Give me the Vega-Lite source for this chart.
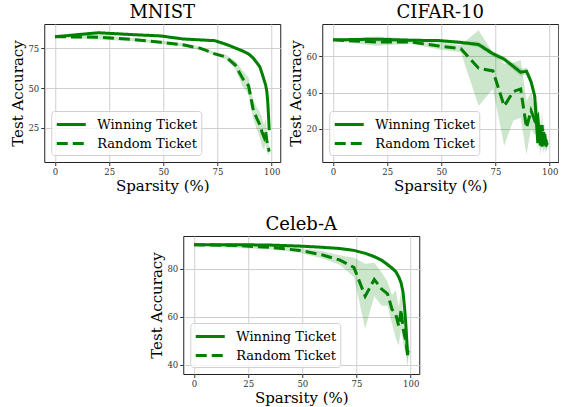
{
"$schema": "https://vega.github.io/schema/vega-lite/v6.json",
"padding": {"left": 10, "top": 3, "right": 0, "bottom": 0},
"config": {
  "font": "DejaVu Serif",
  "view": {"stroke": "#222", "strokeWidth": 1},
  "axis": {"grid": true, "gridColor": "#cfcfcf", "gridWidth": 1, "domain": false, "tickColor": "#333", "tickSize": 3.5, "labelFont": "DejaVu Serif", "labelFontSize": 8.5, "labelColor": "#333", "labelPadding": 2, "titleFont": "DejaVu Serif", "titleFontSize": 15, "titleFontWeight": "normal", "titleColor": "#000", "titlePadding": 2},
  "title": {"font": "DejaVu Serif", "fontSize": 18, "fontWeight": "normal", "offset": 2, "color": "#000"},
  "legend": {"labelFont": "DejaVu Serif", "labelFontSize": 13, "labelColor": "#000", "symbolStrokeColor": "#008000", "symbolStrokeWidth": 3, "symbolSize": 256, "symbolType": "M-1,0H2.625", "symbolFillColor": "transparent", "fillColor": "rgba(255,255,255,0.8)", "strokeColor": "#d0d0d0", "cornerRadius": 3, "padding": 4, "rowPadding": 2, "labelOffset": 23}
},
"datasets": {"d": [
{"ds":"MNIST","series":"Winning Ticket","s":0,"acc":82.3,"lo":81.8,"hi":82.8},
{"ds":"MNIST","series":"Winning Ticket","s":20,"acc":84.8,"lo":84.0,"hi":85.6},
{"ds":"MNIST","series":"Winning Ticket","s":36,"acc":83.6,"lo":82.8,"hi":84.4},
{"ds":"MNIST","series":"Winning Ticket","s":48.8,"acc":82.8,"lo":82.0,"hi":83.6},
{"ds":"MNIST","series":"Winning Ticket","s":59,"acc":80.9,"lo":80.1,"hi":81.7},
{"ds":"MNIST","series":"Winning Ticket","s":67.2,"acc":80.3,"lo":79.5,"hi":81.1},
{"ds":"MNIST","series":"Winning Ticket","s":73.8,"acc":79.8,"lo":79.0,"hi":80.6},
{"ds":"MNIST","series":"Winning Ticket","s":79,"acc":77.5,"lo":76.5,"hi":78.5},
{"ds":"MNIST","series":"Winning Ticket","s":83.2,"acc":75.2,"lo":74.2,"hi":76.2},
{"ds":"MNIST","series":"Winning Ticket","s":86.6,"acc":73.3,"lo":72.3,"hi":74.3},
{"ds":"MNIST","series":"Winning Ticket","s":89.3,"acc":71.5,"lo":70.3,"hi":72.7},
{"ds":"MNIST","series":"Winning Ticket","s":91.4,"acc":69,"lo":67.5,"hi":70.5},
{"ds":"MNIST","series":"Winning Ticket","s":93.1,"acc":66,"lo":64.5,"hi":67.5},
{"ds":"MNIST","series":"Winning Ticket","s":94.5,"acc":63.5,"lo":62,"hi":65},
{"ds":"MNIST","series":"Winning Ticket","s":95.6,"acc":59,"lo":57.5,"hi":60.5},
{"ds":"MNIST","series":"Winning Ticket","s":96.5,"acc":55,"lo":53.5,"hi":56.5},
{"ds":"MNIST","series":"Winning Ticket","s":97.2,"acc":52,"lo":50.5,"hi":53.5},
{"ds":"MNIST","series":"Winning Ticket","s":97.75,"acc":48,"lo":46.5,"hi":49.5},
{"ds":"MNIST","series":"Winning Ticket","s":98.2,"acc":41,"lo":39.5,"hi":42.5},
{"ds":"MNIST","series":"Winning Ticket","s":98.56,"acc":32,"lo":30.5,"hi":33.5},
{"ds":"MNIST","series":"Winning Ticket","s":98.85,"acc":23.5,"lo":22,"hi":25},
{"ds":"MNIST","series":"Random Ticket","s":0,"acc":82.3,"lo":81.8,"hi":82.8},
{"ds":"MNIST","series":"Random Ticket","s":20,"acc":82.0,"lo":80.5,"hi":83.5},
{"ds":"MNIST","series":"Random Ticket","s":36,"acc":80.5,"lo":79.5,"hi":81.5},
{"ds":"MNIST","series":"Random Ticket","s":48.8,"acc":78.8,"lo":77.8,"hi":79.8},
{"ds":"MNIST","series":"Random Ticket","s":59,"acc":77.2,"lo":76.2,"hi":78.2},
{"ds":"MNIST","series":"Random Ticket","s":67.2,"acc":75.0,"lo":74.0,"hi":76.0},
{"ds":"MNIST","series":"Random Ticket","s":73.8,"acc":71.5,"lo":70.5,"hi":72.5},
{"ds":"MNIST","series":"Random Ticket","s":79,"acc":69.5,"lo":68.0,"hi":71.0},
{"ds":"MNIST","series":"Random Ticket","s":83.2,"acc":64.5,"lo":62.0,"hi":67.0},
{"ds":"MNIST","series":"Random Ticket","s":86.6,"acc":56,"lo":51,"hi":61},
{"ds":"MNIST","series":"Random Ticket","s":89.3,"acc":51.5,"lo":46,"hi":57},
{"ds":"MNIST","series":"Random Ticket","s":91.4,"acc":37,"lo":31,"hi":43},
{"ds":"MNIST","series":"Random Ticket","s":93.1,"acc":31,"lo":24,"hi":38},
{"ds":"MNIST","series":"Random Ticket","s":94.5,"acc":27,"lo":19,"hi":35},
{"ds":"MNIST","series":"Random Ticket","s":95.6,"acc":22,"lo":13,"hi":31},
{"ds":"MNIST","series":"Random Ticket","s":96.5,"acc":19,"lo":11,"hi":27},
{"ds":"MNIST","series":"Random Ticket","s":97.2,"acc":23,"lo":15,"hi":31},
{"ds":"MNIST","series":"Random Ticket","s":97.75,"acc":17,"lo":10,"hi":24},
{"ds":"MNIST","series":"Random Ticket","s":98.2,"acc":14,"lo":9,"hi":19},
{"ds":"MNIST","series":"Random Ticket","s":98.56,"acc":12,"lo":8,"hi":16},
{"ds":"MNIST","series":"Random Ticket","s":98.85,"acc":10,"lo":7.5,"hi":12.5},
{"ds":"CIFAR-10","series":"Winning Ticket","s":0,"acc":69.2,"lo":68.7,"hi":69.7},
{"ds":"CIFAR-10","series":"Winning Ticket","s":20,"acc":69.6,"lo":68.1,"hi":71.1},
{"ds":"CIFAR-10","series":"Winning Ticket","s":36,"acc":69.0,"lo":68.0,"hi":70.0},
{"ds":"CIFAR-10","series":"Winning Ticket","s":48.8,"acc":68.8,"lo":68.0,"hi":69.6},
{"ds":"CIFAR-10","series":"Winning Ticket","s":59,"acc":67.8,"lo":66.8,"hi":68.8},
{"ds":"CIFAR-10","series":"Winning Ticket","s":67.2,"acc":66.6,"lo":65.1,"hi":68.1},
{"ds":"CIFAR-10","series":"Winning Ticket","s":73.8,"acc":61.5,"lo":60.0,"hi":63.0},
{"ds":"CIFAR-10","series":"Winning Ticket","s":79,"acc":58.5,"lo":57.0,"hi":60.0},
{"ds":"CIFAR-10","series":"Winning Ticket","s":83.2,"acc":54.5,"lo":52.5,"hi":56.5},
{"ds":"CIFAR-10","series":"Winning Ticket","s":86.6,"acc":51.3,"lo":49.3,"hi":53.3},
{"ds":"CIFAR-10","series":"Winning Ticket","s":89.3,"acc":51.8,"lo":49.8,"hi":53.8},
{"ds":"CIFAR-10","series":"Winning Ticket","s":91.4,"acc":46,"lo":43,"hi":49},
{"ds":"CIFAR-10","series":"Winning Ticket","s":93.1,"acc":38,"lo":34,"hi":42},
{"ds":"CIFAR-10","series":"Winning Ticket","s":94.5,"acc":12,"lo":8,"hi":16},
{"ds":"CIFAR-10","series":"Winning Ticket","s":95.6,"acc":22,"lo":17,"hi":27},
{"ds":"CIFAR-10","series":"Winning Ticket","s":96.5,"acc":10,"lo":7,"hi":13},
{"ds":"CIFAR-10","series":"Winning Ticket","s":97.2,"acc":18,"lo":14,"hi":22},
{"ds":"CIFAR-10","series":"Winning Ticket","s":97.75,"acc":11,"lo":8,"hi":14},
{"ds":"CIFAR-10","series":"Winning Ticket","s":98.2,"acc":14,"lo":11,"hi":17},
{"ds":"CIFAR-10","series":"Winning Ticket","s":98.56,"acc":11,"lo":8,"hi":14},
{"ds":"CIFAR-10","series":"Winning Ticket","s":98.85,"acc":12,"lo":10,"hi":14},
{"ds":"CIFAR-10","series":"Random Ticket","s":0,"acc":69.2,"lo":68.7,"hi":69.7},
{"ds":"CIFAR-10","series":"Random Ticket","s":20,"acc":68.0,"lo":66.0,"hi":70.0},
{"ds":"CIFAR-10","series":"Random Ticket","s":36,"acc":68.0,"lo":67.0,"hi":69.0},
{"ds":"CIFAR-10","series":"Random Ticket","s":48.8,"acc":65.8,"lo":63.8,"hi":67.8},
{"ds":"CIFAR-10","series":"Random Ticket","s":59,"acc":64.3,"lo":62.3,"hi":66.3},
{"ds":"CIFAR-10","series":"Random Ticket","s":67.2,"acc":53.5,"lo":32.5,"hi":74.5},
{"ds":"CIFAR-10","series":"Random Ticket","s":73.8,"acc":52.0,"lo":42.0,"hi":62.0},
{"ds":"CIFAR-10","series":"Random Ticket","s":79,"acc":32.5,"lo":10.5,"hi":56},
{"ds":"CIFAR-10","series":"Random Ticket","s":83.2,"acc":40.5,"lo":24.5,"hi":56.5},
{"ds":"CIFAR-10","series":"Random Ticket","s":86.6,"acc":42,"lo":26,"hi":58},
{"ds":"CIFAR-10","series":"Random Ticket","s":89.3,"acc":20.5,"lo":5.5,"hi":35.5},
{"ds":"CIFAR-10","series":"Random Ticket","s":91.4,"acc":30,"lo":20,"hi":40},
{"ds":"CIFAR-10","series":"Random Ticket","s":93.1,"acc":24.5,"lo":16.5,"hi":32.5},
{"ds":"CIFAR-10","series":"Random Ticket","s":94.5,"acc":27,"lo":19,"hi":35},
{"ds":"CIFAR-10","series":"Random Ticket","s":95.6,"acc":10,"lo":5,"hi":15},
{"ds":"CIFAR-10","series":"Random Ticket","s":96.5,"acc":22,"lo":15,"hi":29},
{"ds":"CIFAR-10","series":"Random Ticket","s":97.2,"acc":11,"lo":6,"hi":16},
{"ds":"CIFAR-10","series":"Random Ticket","s":97.75,"acc":17,"lo":11,"hi":23},
{"ds":"CIFAR-10","series":"Random Ticket","s":98.2,"acc":10,"lo":6,"hi":14},
{"ds":"CIFAR-10","series":"Random Ticket","s":98.56,"acc":12,"lo":8,"hi":16},
{"ds":"CIFAR-10","series":"Random Ticket","s":98.85,"acc":11,"lo":8,"hi":14},
{"ds":"Celeb-A","series":"Winning Ticket","s":0,"acc":90,"lo":89.7,"hi":90.3},
{"ds":"Celeb-A","series":"Winning Ticket","s":20,"acc":90,"lo":89.5,"hi":90.5},
{"ds":"Celeb-A","series":"Winning Ticket","s":36,"acc":89.8,"lo":89.3,"hi":90.3},
{"ds":"Celeb-A","series":"Winning Ticket","s":48.8,"acc":89.4,"lo":88.9,"hi":89.9},
{"ds":"Celeb-A","series":"Winning Ticket","s":59,"acc":88.9,"lo":88.4,"hi":89.4},
{"ds":"Celeb-A","series":"Winning Ticket","s":67.2,"acc":88.4,"lo":87.9,"hi":88.9},
{"ds":"Celeb-A","series":"Winning Ticket","s":73.8,"acc":87.6,"lo":87.1,"hi":88.1},
{"ds":"Celeb-A","series":"Winning Ticket","s":79,"acc":86.4,"lo":85.9,"hi":86.9},
{"ds":"Celeb-A","series":"Winning Ticket","s":83.2,"acc":85,"lo":84.3,"hi":85.7},
{"ds":"Celeb-A","series":"Winning Ticket","s":86.6,"acc":83.5,"lo":82.7,"hi":84.3},
{"ds":"Celeb-A","series":"Winning Ticket","s":89.3,"acc":81.7,"lo":80.7,"hi":82.7},
{"ds":"Celeb-A","series":"Winning Ticket","s":91.4,"acc":80.2,"lo":79.2,"hi":81.2},
{"ds":"Celeb-A","series":"Winning Ticket","s":93.1,"acc":78.8,"lo":77.8,"hi":79.8},
{"ds":"Celeb-A","series":"Winning Ticket","s":94.5,"acc":76.5,"lo":75,"hi":78},
{"ds":"Celeb-A","series":"Winning Ticket","s":95.6,"acc":74,"lo":72,"hi":76},
{"ds":"Celeb-A","series":"Winning Ticket","s":96.5,"acc":70,"lo":68,"hi":72},
{"ds":"Celeb-A","series":"Winning Ticket","s":97.2,"acc":63.5,"lo":61,"hi":66},
{"ds":"Celeb-A","series":"Winning Ticket","s":97.75,"acc":57,"lo":54,"hi":60},
{"ds":"Celeb-A","series":"Winning Ticket","s":98.2,"acc":50,"lo":47,"hi":53},
{"ds":"Celeb-A","series":"Winning Ticket","s":98.56,"acc":44,"lo":41,"hi":47},
{"ds":"Celeb-A","series":"Winning Ticket","s":98.85,"acc":46,"lo":43,"hi":49},
{"ds":"Celeb-A","series":"Random Ticket","s":0,"acc":90,"lo":89.7,"hi":90.3},
{"ds":"Celeb-A","series":"Random Ticket","s":20,"acc":89.6,"lo":88.6,"hi":90.6},
{"ds":"Celeb-A","series":"Random Ticket","s":36,"acc":88.8,"lo":88.0,"hi":89.6},
{"ds":"Celeb-A","series":"Random Ticket","s":48.8,"acc":87.6,"lo":86.6,"hi":88.6},
{"ds":"Celeb-A","series":"Random Ticket","s":59,"acc":85.8,"lo":84.3,"hi":87.3},
{"ds":"Celeb-A","series":"Random Ticket","s":67.2,"acc":83.6,"lo":81.6,"hi":85.6},
{"ds":"Celeb-A","series":"Random Ticket","s":73.8,"acc":80.5,"lo":76.5,"hi":84.5},
{"ds":"Celeb-A","series":"Random Ticket","s":79,"acc":68.5,"lo":55,"hi":82},
{"ds":"Celeb-A","series":"Random Ticket","s":83.2,"acc":75.5,"lo":68.5,"hi":82.5},
{"ds":"Celeb-A","series":"Random Ticket","s":86.6,"acc":71.5,"lo":64.5,"hi":78.5},
{"ds":"Celeb-A","series":"Random Ticket","s":89.3,"acc":69.5,"lo":64.5,"hi":74.5},
{"ds":"Celeb-A","series":"Random Ticket","s":91.4,"acc":63,"lo":57,"hi":69},
{"ds":"Celeb-A","series":"Random Ticket","s":93.1,"acc":61,"lo":51,"hi":71},
{"ds":"Celeb-A","series":"Random Ticket","s":94.5,"acc":56,"lo":48,"hi":64},
{"ds":"Celeb-A","series":"Random Ticket","s":95.6,"acc":63,"lo":55,"hi":71},
{"ds":"Celeb-A","series":"Random Ticket","s":96.5,"acc":55,"lo":49,"hi":61},
{"ds":"Celeb-A","series":"Random Ticket","s":97.2,"acc":52,"lo":46,"hi":58},
{"ds":"Celeb-A","series":"Random Ticket","s":97.75,"acc":50,"lo":45,"hi":55},
{"ds":"Celeb-A","series":"Random Ticket","s":98.2,"acc":47,"lo":42,"hi":52},
{"ds":"Celeb-A","series":"Random Ticket","s":98.56,"acc":44,"lo":39,"hi":49},
{"ds":"Celeb-A","series":"Random Ticket","s":98.85,"acc":46,"lo":42,"hi":50}
]},
"vconcat": [
 {"hconcat": [
  {"title": "MNIST", "width": 236, "height": 138, "data": {"name": "d"},
   "transform": [{"filter": "datum.ds === 'MNIST'"}],
   "encoding": {"x": {"field": "s", "type": "quantitative", "scale": {"domain": [-4.95, 103.95], "nice": false, "zero": false}, "axis": {"values": [0, 25, 50, 75, 100], "title": "Sparsity (%)"}}},
   "layer": [
    {"mark": {"type": "area", "color": "#008000", "opacity": 0.2}, "encoding": {"y": {"field": "lo", "type": "quantitative", "scale": {"domain": [3.5, 90.3], "nice": false, "zero": false}, "axis": {"values": [25, 50, 75], "title": "Test Accuracy"}}, "y2": {"field": "hi"}, "detail": {"field": "series"}}},
    {"mark": {"type": "line", "color": "#008000", "strokeWidth": 3}, "encoding": {"y": {"field": "acc", "type": "quantitative", "scale": {"domain": [3.5, 90.3], "nice": false, "zero": false}, "axis": {"values": [25, 50, 75], "title": "Test Accuracy"}}, "strokeDash": {"field": "series", "type": "nominal", "scale": {"domain": ["Winning Ticket", "Random Ticket"], "range": [[1, 0], [11, 5]]}, "legend": {"title": null, "orient": "bottom-left", "offset": 7, "labelFont": "DejaVu Serif"}}}}
   ]},
  {"title": "CIFAR-10", "width": 236, "height": 138, "data": {"name": "d"},
   "transform": [{"filter": "datum.ds === 'CIFAR-10'"}],
   "encoding": {"x": {"field": "s", "type": "quantitative", "scale": {"domain": [-4.95, 103.95], "nice": false, "zero": false}, "axis": {"values": [0, 25, 50, 75, 100], "title": "Sparsity (%)"}}},
   "layer": [
    {"mark": {"type": "area", "color": "#008000", "opacity": 0.2}, "encoding": {"y": {"field": "lo", "type": "quantitative", "scale": {"domain": [1.5, 78], "nice": false, "zero": false}, "axis": {"values": [20, 40, 60], "title": "Test Accuracy"}}, "y2": {"field": "hi"}, "detail": {"field": "series"}}},
    {"mark": {"type": "line", "color": "#008000", "strokeWidth": 3}, "encoding": {"y": {"field": "acc", "type": "quantitative", "scale": {"domain": [1.5, 78], "nice": false, "zero": false}, "axis": {"values": [20, 40, 60], "title": "Test Accuracy"}}, "strokeDash": {"field": "series", "type": "nominal", "scale": {"domain": ["Winning Ticket", "Random Ticket"], "range": [[1, 0], [11, 5]]}, "legend": {"title": null, "orient": "bottom-left", "offset": 7, "labelFont": "DejaVu Serif"}}}}
   ]}
 ], "spacing": 7, "resolve": {"scale": {"x": "independent", "y": "independent", "strokeDash": "independent"}, "legend": {"strokeDash": "independent"}}},
 {"title": "Celeb-A", "width": 236, "height": 138, "data": {"name": "d"},
  "transform": [{"filter": "datum.ds === 'Celeb-A'"}],
  "encoding": {"x": {"field": "s", "type": "quantitative", "scale": {"domain": [-4.95, 103.95], "nice": false, "zero": false}, "axis": {"values": [0, 25, 50, 75, 100], "title": "Sparsity (%)"}}},
  "layer": [
   {"mark": {"type": "area", "color": "#008000", "opacity": 0.2}, "encoding": {"y": {"field": "lo", "type": "quantitative", "scale": {"domain": [36.1, 93.6], "nice": false, "zero": false}, "axis": {"values": [40, 60, 80], "title": "Test Accuracy"}}, "y2": {"field": "hi"}, "detail": {"field": "series"}}},
   {"mark": {"type": "line", "color": "#008000", "strokeWidth": 3}, "encoding": {"y": {"field": "acc", "type": "quantitative", "scale": {"domain": [36.1, 93.6], "nice": false, "zero": false}, "axis": {"values": [40, 60, 80], "title": "Test Accuracy"}}, "strokeDash": {"field": "series", "type": "nominal", "scale": {"domain": ["Winning Ticket", "Random Ticket"], "range": [[1, 0], [11, 5]]}, "legend": {"title": null, "orient": "bottom-left", "offset": 7, "labelFont": "DejaVu Serif"}}}}
  ]}
],
"spacing": 21,
"center": true,
"resolve": {"scale": {"x": "independent", "y": "independent", "strokeDash": "independent"}, "legend": {"strokeDash": "independent"}}
}
